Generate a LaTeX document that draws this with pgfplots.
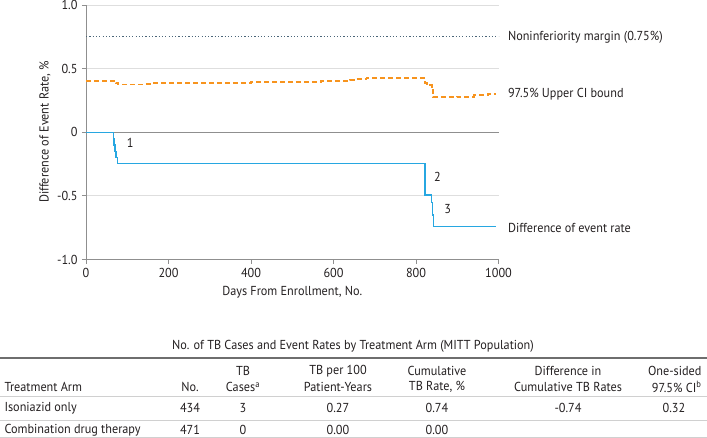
\documentclass[border=0pt]{standalone}
\usepackage{fontspec}
\setmainfont{PT Sans}[FakeStretch=0.94]
\usepackage{pgfplots}
\pgfplotsset{compat=1.18}
\definecolor{cblue}{HTML}{27A7E1}
\definecolor{corange}{HTML}{F7941E}
\definecolor{cdot}{HTML}{4A6578}
\definecolor{cgrid}{HTML}{DEDEDE}
\definecolor{caxis}{HTML}{8F8F8F}
\definecolor{ctext}{HTML}{231F20}
\definecolor{crule}{HTML}{6E6E6E}
\definecolor{clight}{HTML}{D0D0D0}
\begin{document}
\fontsize{13bp}{15bp}\selectfont
\begin{tikzpicture}[x=1bp,y=1bp,every node/.style={text=ctext,font=\fontsize{13bp}{15bp}\selectfont}]
\useasboundingbox (0bp,0bp) rectangle (707bp,-438bp);
\begin{axis}[
  at={(86bp,-259.5bp)}, anchor=south west,
  width=412.5bp, height=254.5bp, scale only axis,
  xmin=0, xmax=1000, ymin=-1, ymax=1,
  axis x line*=bottom, axis y line*=left,
  axis line style={caxis, line width=1bp, -},
  tick align=outside, major tick length=4bp,
  tick style={caxis, line width=1bp},
  xtick={0,200,400,600,800,1000}, xticklabels={0,200,400,600,800,1000},
  ytick={-1,-0.5,0,0.5,1}, yticklabels={-1.0,-0.5,0,0.5,1.0},
  /pgf/number format/assume math mode=true,
  tick label style={font=\fontsize{13bp}{15bp}\selectfont, text=ctext},
  ymajorgrids, grid style={cgrid, line width=1bp},
  xlabel={Days From Enrollment, No.},
  label style={font=\fontsize{13bp}{15bp}\selectfont, text=ctext},
  clip=false,
]
\draw[caxis, line width=1bp] (axis cs:0,0) -- (axis cs:1000,0);
\addplot[cdot, line width=1.3bp, dash pattern=on 1.2bp off 2.1bp] coordinates {(0,0.75) (1000,0.75)};
\addplot[corange, line width=1.8bp, dash pattern=on 5bp off 3bp, const plot] coordinates {
(0,0.405) (68,0.40) (72,0.385) (78,0.376) (140,0.380) (160,0.385) (300,0.387)
(400,0.392) (500,0.395) (570,0.400) (640,0.410) (655,0.420) (680,0.425)
(822,0.390) (826,0.370) (838,0.330) (842,0.275) (900,0.280) (940,0.290) (975,0.300) (995,0.300)};
\addplot[cblue, line width=1.4bp, const plot] coordinates {
(0,0) (66,-0.05) (68,-0.10) (70,-0.15) (73,-0.20) (76,-0.247) (822,-0.494)
(838,-0.55) (840,-0.65) (842,-0.741) (995,-0.741)};
\node[anchor=west] at (axis cs:88,-0.08) {1};
\node[anchor=west] at (axis cs:833,-0.35) {2};
\node[anchor=west] at (axis cs:858,-0.60) {3};
\node[anchor=west, xshift=5bp] at (axis cs:1000,0.75) {Noninferiority margin (0.75\%)};
\node[anchor=west, xshift=5bp] at (axis cs:1000,0.30) {97.5\% Upper CI bound};
\node[anchor=west, xshift=5bp] at (axis cs:1000,-0.75) {Difference of event rate};
\end{axis}
\node[rotate=90] at (45bp,-132bp) {Difference of Event Rate, \%};
% table
\node at (353bp,-346bp) {No. of TB Cases and Event Rates by Treatment Arm (MITT Population)};
\draw[crule, line width=2bp] (0bp,-358bp) -- (707bp,-358bp);
\draw[clight, line width=1bp] (0bp,-396bp) -- (707bp,-396bp);
\draw[clight, line width=1bp] (0bp,-420bp) -- (707bp,-420bp);
\draw[clight, line width=1bp] (0bp,-437bp) -- (707bp,-437bp);
% headers
\node[anchor=west] at (0bp,-387bp) {Treatment Arm};
\node at (190bp,-387bp) {No.};
\node at (243bp,-371bp) {TB};
\node at (243bp,-387bp) {Cases\textsuperscript{a}};
\node at (338bp,-371bp) {TB per 100};
\node at (338bp,-387bp) {Patient-Years};
\node at (437bp,-371bp) {Cumulative};
\node at (437bp,-387bp) {TB Rate, \%};
\node at (568bp,-371bp) {Difference in};
\node at (568bp,-387bp) {Cumulative TB Rates};
\node[anchor=east] at (706bp,-371bp) {One-sided};
\node[anchor=east] at (706bp,-387bp) {97.5\% CI\textsuperscript{b}};
% rows
\node[anchor=west] at (0bp,-408bp) {Isoniazid only};
\node at (190bp,-408bp) {434};
\node at (243bp,-408bp) {3};
\node at (338bp,-408bp) {0.27};
\node at (437bp,-408bp) {0.74};
\node at (568bp,-408bp) {-0.74};
\node at (674bp,-408bp) {0.32};
\node[anchor=west] at (0bp,-430bp) {Combination drug therapy};
\node at (190bp,-430bp) {471};
\node at (243bp,-430bp) {0};
\node at (338bp,-430bp) {0.00};
\node at (437bp,-430bp) {0.00};
\end{tikzpicture}
\end{document}
